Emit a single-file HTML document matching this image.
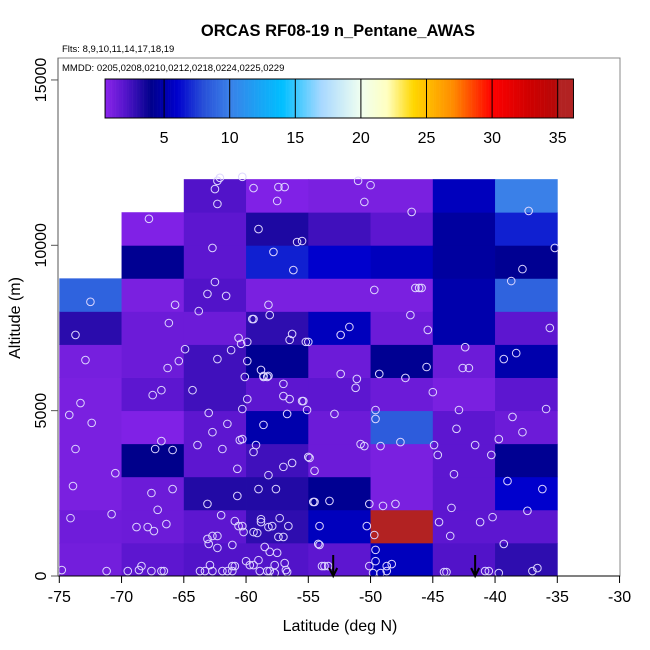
<!DOCTYPE html>
<html><head><meta charset="utf-8"><style>
body{margin:0;background:#fff}
svg{display:block;font-family:"Liberation Sans",Arial,sans-serif}
</style></head><body>
<svg id="chart" width="650" height="650" viewBox="0 0 650 650">
<rect width="650" height="650" fill="#fff"/>
<g id="cells"></g>
<g id="points"></g>
<g id="arrows"></g>
<rect x="58" y="58" width="562" height="518" fill="none" stroke="#888" stroke-width="1"/>
<g id="axes"></g>
<g id="cbar"></g>
<text x="338" y="36" text-anchor="middle" font-size="16.5" font-weight="bold">ORCAS RF08-19 n_Pentane_AWAS</text>
<text x="62" y="52" font-size="9.5">Flts: 8,9,10,11,14,17,18,19</text>
<text x="62" y="71" font-size="9.5">MMDD: 0205,0208,0210,0212,0218,0224,0225,0229</text>
<text x="340" y="631" text-anchor="middle" font-size="16">Latitude (deg N)</text>
<text transform="translate(20,318) rotate(-90)" text-anchor="middle" font-size="16">Altitude (m)</text>
</svg>
<script>
const colLat=[-75,-70,-65,-60,-55,-50,-45,-40];
// values per column, bottom row (0-1000 m) upward
const col0=[1.2,1.3,1.0,1.0,1.0,1.0,1.1,3.0,8.8];
const col1=[1.8,1.4,1.4,4.0,0.8,1.8,1.4,1.4,1.0,4.2,0.8];
const col2=[2.1,1.8,3.2,1.8,1.8,2.5,2.5,1.4,2.1,1.8,1.8,2.1];
const col3=[2.1,2.9,3.2,2.5,5.0,1.8,4.2,2.9,1.0,6.8,3.3,0.8];
const col4=[1.8,5.5,4.2,1.4,1.4,1.8,1.4,5.5,1.0,6.0,2.5,1.0];
const col5=[5.5,35.5,1.0,1.0,8.5,1.4,4.2,1.4,1.0,5.5,1.8,1.0];
const col6=[2.1,1.8,1.8,1.8,1.8,1.0,1.4,5.0,5.0,4.6,4.6,5.5];
const col7=[2.9,1.8,6.0,4.2,1.4,1.8,5.0,1.8,8.8,4.2,6.8,10];
const cellVals=[col0,col1,col2,col3,col4,col5,col6,col7];
const xTicks=[-75,-70,-65,-60,-55,-50,-45,-40,-35,-30];
const yTicks=[0,5000,10000,15000];
const cbTicks=[5,10,15,20,25,30,35];
const arrowLat=[-53.0,-41.6];
const ptLat=[-62.3,-62.1,-62.5,-62.3,-60.3,-59.4,-57.4,-56.9,-57.5,-67.8,-59.0,-55.9,-55.5,-62.7,-57.8,-56.2,-62.5,-63.1,-61.6,-72.5,-65.7,-58.2,-63.8,-58.1,-59.5,-59.4,-73.7,-66.2,-56.3,-56.5,-55.2,-55.0,-60.6,-60.4,-59.9,-72.9,-64.9,-61.2,-65.4,-66.3,-62.3,-59.9,-58.8,-58.6,-58.2,-60.1,
-51.0,-50.0,-50.5,-46.7,-37.3,-35.2,-37.8,-38.7,-49.7,-46.4,-46.1,-45.9,-46.8,-51.7,-52.4,-45.4,-35.6,-42.4,-38.3,-39.3,-52.4,-45.5,-49.3,-47.2,-42.6,-42.1,-51.1,
-58.6,-58.3,-57.0,-66.8,-67.5,-64.3,-59.9,-57.0,-56.5,-55.5,-55.1,-73.3,-74.2,-72.4,-63.0,-60.3,-56.7,-61.5,-58.6,-62.7,-66.8,-60.5,-60.3,-59.2,-59.4,-63.9,-61.9,-67.3,-65.9,-73.7,-55.0,-56.3,-57.0,-54.5,-60.7,-58.2,-70.5,-73.9,-65.9,-67.6,-59.0,-57.6,-60.7,-63.1,-54.6,-74.1,-70.8,-67.1,-66.4,-68.8,-67.9,-67.4,-62.0,-60.9,-60.6,-60.3,-60.2,-58.8,-58.8,-57.9,-57.3,-58.2,-56.6,-59.4,-59.1,-63.1,-62.7,-62.3,-63.0,-62.3,-61.1,-57.4,-57.0,-54.2,-58.5,-58.1,-57.5,-59.0,-60.0,-59.7,-59.4,-56.9,-57.7,-62.9,-68.4,-68.6,-74.8,-71.2,-69.5,-67.6,-66.8,-66.6,-63.7,-63.3,-62.7,-61.9,-61.5,-61.1,-60.9,-61.1,-58.9,-58.3,-58.1,-57.7,-56.8,-56.7,
-51.2,-45.0,-55.4,-52.9,-49.6,-49.6,-42.9,-35.9,-38.6,-37.8,-43.1,-39.7,-50.8,-50.5,-49.2,-47.6,-44.9,-44.6,-41.6,-40.3,-54.9,-43.3,-39.0,-36.2,-54.5,-53.3,-50.1,-49.0,-48.0,-43.5,-37.4,-40.2,-41.2,-44.5,-54.1,-50.3,-49.7,-43.6,-54.1,-39.3,-49.6,-49.6,-50.1,-48.7,-48.3,-53.9,-53.7,-53.4,-49.8,-49.2,-48.7,-44.1,-43.9,-40.8,-40.5,-39.7,-37.0,-36.6];
const ptAlt=[11950,12040,11700,11250,12070,11730,11760,11760,11340,10800,10490,10100,10130,9920,9800,9250,8890,8530,8470,8290,8200,8200,8010,7890,7770,7770,7290,7650,7320,7140,7080,7080,7200,7020,7080,6530,6860,6830,6500,6290,6560,6500,6230,6050,6050,6020,
11950,11820,11310,11010,11040,9920,9280,8920,8650,8710,8710,8710,7890,7530,7290,7440,7500,6920,6740,6560,6110,6320,6110,5990,6290,6290,5960,
6020,6020,5810,5620,5470,5620,5350,5440,5350,5290,5020,5230,4870,4630,4930,5050,4900,4600,4570,4350,4080,4110,4140,3960,3750,3960,3840,3840,3810,3840,3600,3420,3300,3180,3240,3050,3110,2720,2630,2510,2630,2630,2420,2180,2240,1750,1870,2000,1570,1480,1480,1360,1840,1660,1510,1510,1330,1720,1630,1510,1750,1480,1510,1330,1300,1120,1210,1210,970,850,940,1180,1180,970,880,730,700,480,450,330,330,390,330,330,300,180,180,150,150,150,150,150,150,150,150,150,150,300,300,150,150,150,150,90,180,120,
5690,5560,5290,4900,5020,4750,5020,5050,4810,4350,4450,4140,3990,3930,3930,4050,3960,3660,3960,3660,3570,3080,2870,2630,2240,2270,2180,2120,2180,2060,1970,1780,1630,1630,1510,1510,1240,1210,940,970,790,450,300,300,360,300,300,300,90,90,150,120,120,150,150,90,150,240];

const NS='http://www.w3.org/2000/svg';
const X=v=>59.3+(v+75)*12.45;
const Y=v=>576-v*0.03307;
const CB=v=>98.5+v*13.12;
const stops=[[0.5,[138,34,238]],[1,[122,32,224]],[2,[86,20,204]],[3,[42,12,172]],[4,[0,0,139]],[6,[0,0,205]],[8,[40,80,216]],[10,[58,128,232]],[14,[0,191,255]],[17,[168,216,255]],[20,[240,255,240]],[22,[255,255,192]],[24,[255,215,0]],[27,[255,140,0]],[30,[255,0,0]],[33,[205,0,0]],[35,[180,10,10]],[35.01,[178,34,34]],[37,[178,34,34]]];
function cmap(v){
  if(v<=stops[0][0])return 'rgb('+stops[0][1]+')';
  for(let i=1;i<stops.length;i++){
    if(v<=stops[i][0]){const a=stops[i-1],b=stops[i],t=(v-a[0])/(b[0]-a[0]);
      return 'rgb('+a[1].map((c,k)=>Math.round(c+(b[1][k]-c)*t)).join(',')+')';}
  }
  return 'rgb(178,34,34)';
}
function mk(tag,attrs,parent){const e=document.createElementNS(NS,tag);for(const k in attrs)e.setAttribute(k,attrs[k]);parent.appendChild(e);return e;}
const gC=document.getElementById('cells');
cellVals.forEach((col,ci)=>{col.forEach((v,ri)=>{
  const r=mk('rect',{x:X(colLat[ci]),y:Y((ri+1)*1000),width:X(colLat[ci]+5)-X(colLat[ci])+0.4,height:Y(ri*1000)-Y((ri+1)*1000)+0.4,fill:cmap(v)},gC);
  
  
});});
const gP=document.getElementById('points');
ptLat.forEach((la,i)=>{
  const c=mk('circle',{cx:X(la),cy:Y(ptAlt[i]),r:3.8,fill:'none',stroke:'#ddd6ff','stroke-width':1},gP);
  
  
});
const gA=document.getElementById('arrows');
arrowLat.forEach(la=>{
  const x=X(la);
  const p=mk('path',{d:`M${x},555 L${x},576 M${x-4},568 L${x},576 L${x+4},568`,stroke:'#000','stroke-width':2,fill:'none'},gA);
  
  
});
const gX=document.getElementById('axes');
mk('line',{x1:58,y1:576,x2:620,y2:576,stroke:'#000'},gX);
mk('line',{x1:58,y1:58,x2:58,y2:576,stroke:'#555'},gX);
xTicks.forEach(t=>{
  mk('line',{x1:X(t),y1:576,x2:X(t),y2:583,stroke:'#000'},gX);
  const tx=mk('text',{x:X(t),y:602,'text-anchor':'middle','font-size':16},gX);tx.textContent=t;
  
  
});
yTicks.forEach(t=>{
  mk('line',{x1:51,y1:Y(t),x2:58,y2:Y(t),stroke:'#555'},gX);
  const tx=mk('text',{transform:`translate(46,${Y(t)}) rotate(-90)`,'text-anchor':'middle','font-size':16},gX);tx.textContent=t;
  
  
});
const gB=document.getElementById('cbar');
for(let v=0.5;v<36.2;v+=0.1){
  mk('rect',{x:CB(v),y:79,width:1.6,height:39,fill:cmap(v+0.05)},gB);
}
mk('rect',{x:CB(0.5),y:79,width:CB(36.2)-CB(0.5),height:39,fill:'none',stroke:'#000'},gB);
cbTicks.forEach(t=>{
  mk('line',{x1:CB(t),y1:79,x2:CB(t),y2:118,stroke:'#000'},gB);
  const tx=mk('text',{x:CB(t),y:143,'text-anchor':'middle','font-size':16},gB);tx.textContent=t;
  
  
});
</script>
</body></html>
